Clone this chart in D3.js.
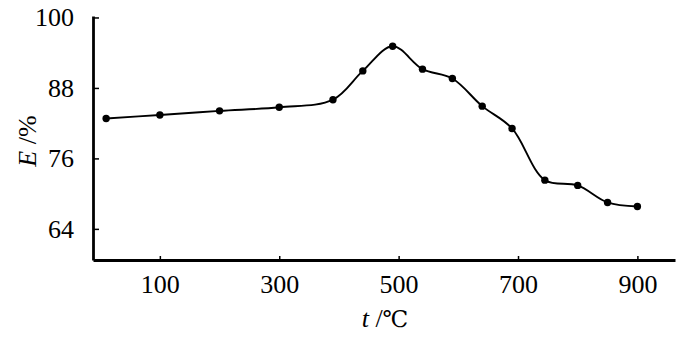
<!DOCTYPE html>
<html>
<head>
<meta charset="utf-8">
<script src="https://cdn.jsdelivr.net/npm/d3@7"></script>
<style>
  body { margin: 0; background: #fff; }
  svg { display: block; }
  .axis text { font-family: "Liberation Serif", "DejaVu Serif", serif; font-size: 26px; fill: #000; }
  .axis path, .axis line { stroke: #000; }
  .label { font-family: "Liberation Serif", "DejaVu Serif", serif; font-size: 26px; fill: #000; }
</style>
</head>
<body>
<div id="chart"></div>
<script>
// temperature (°C) vs E (%)
var temps = [10, 100, 200, 300, 390, 440, 490, 540, 590, 640, 690, 745, 800, 850, 900];
var eVals = [82.8, 83.4, 84.1, 84.7, 86.0, 90.9, 95.1, 91.2, 89.6, 84.9, 81.1, 72.3, 71.4, 68.5, 67.8];

var xTicks = [100, 300, 500, 700, 900];
var yTicks = [64, 76, 88, 100];

var data = temps.map(function(t, i) { return {t: t, e: eVals[i]}; });

// layout
var W = 700, H = 342;
var plotLeft = 93, plotRight = 675, plotTop = 16, plotBottom = 260;

var xScale = d3.scaleLinear()
  .domain([-12, 963])
  .range([plotLeft, plotRight]);

var yScale = d3.scaleLinear()
  .domain([58.7, 100.25])
  .range([plotBottom, plotTop]);

var svg = d3.select("#chart").append("svg")
  .attr("width", W)
  .attr("height", H);

// x axis, ticks point inward
var xAxis = svg.append("g")
  .attr("class", "axis")
  .attr("transform", "translate(0," + plotBottom + ")")
  .call(d3.axisBottom(xScale)
    .tickValues(xTicks)
    .tickSizeInner(-4)
    .tickSizeOuter(0)
    .tickPadding(15));
xAxis.select(".domain").attr("stroke-width", 2.8);
xAxis.selectAll(".tick line").attr("stroke-width", 1.5);

// y axis
var yAxis = svg.append("g")
  .attr("class", "axis")
  .attr("transform", "translate(" + plotLeft + ",0)")
  .call(d3.axisLeft(yScale)
    .tickValues(yTicks)
    .tickSizeInner(-6)
    .tickSizeOuter(0)
    .tickPadding(19));
yAxis.select(".domain").attr("stroke-width", 2.8);
yAxis.selectAll(".tick line").attr("stroke-width", 1.5);

// smooth curve
var line = d3.line()
  .x(function(d) { return xScale(d.t); })
  .y(function(d) { return yScale(d.e); })
  .curve(d3.curveCatmullRom.alpha(0.5));

svg.append("path")
  .datum(data)
  .attr("d", line)
  .attr("fill", "none")
  .attr("stroke", "#000")
  .attr("stroke-width", 1.9);

svg.selectAll(".dot")
  .data(data)
  .enter().append("circle")
  .attr("class", "dot")
  .attr("cx", function(d) { return xScale(d.t); })
  .attr("cy", function(d) { return yScale(d.e); })
  .attr("r", 3.7)
  .attr("fill", "#000");

// axis titles
var xt = svg.append("text")
  .attr("class", "label")
  .attr("x", 385)
  .attr("y", 327)
  .attr("text-anchor", "middle");
xt.append("tspan").attr("font-style", "italic").text("t");
xt.append("tspan").text(" /");
xt.append("tspan").style("font-family", "'DejaVu Serif', serif").style("font-size", "23px").text("℃");

var yt = svg.append("text")
  .attr("class", "label")
  .attr("transform", "translate(36,141) rotate(-90)")
  .attr("text-anchor", "middle");
yt.append("tspan").attr("font-style", "italic").text("E");
yt.append("tspan").text(" /%");
</script>
</body>
</html>
